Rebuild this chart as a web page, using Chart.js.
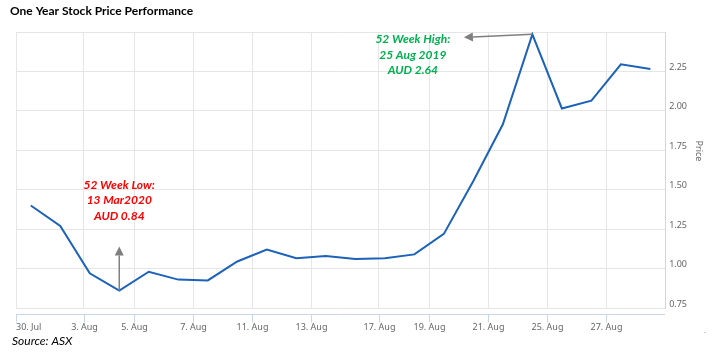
<!DOCTYPE html>
<html>
<head>
<meta charset="utf-8">
<script src="https://cdn.jsdelivr.net/npm/chart.js@4.4.1/dist/chart.umd.min.js"></script>
<style>
    html, body { margin: 0; padding: 0; background: #ffffff; }
</style>
</head>
<body>
<canvas id="priceChart" width="713" height="354"></canvas>
<script>
//======================================================================================================================
// 데이터 ===============================================================================================================
const priceData = [1.40, 1.27, 0.97, 0.86, 0.98, 0.93, 0.925, 1.045, 1.12, 1.065, 1.08,
                   1.06, 1.065, 1.09, 1.22, 1.555, 1.915, 2.485, 2.015, 2.065, 2.295, 2.265];   // 종가
const xTickPos = [-0.5, 1.8, 3.5, 5.5, 7.5, 9.5, 11.8, 13.5, 15.5, 17.5, 19.5];                  // X축 눈금 위치(포인트 순번 기준)
const xTickLabels = ['30. Jul', '3. Aug', '5. Aug', '7. Aug', '11. Aug', '13. Aug',
                     '17. Aug', '19. Aug', '21. Aug', '25. Aug', '27. Aug'];                      // X축 눈금 라벨
const lowNote = ['52 Week Low:', '13 Mar2020', 'AUD 0.84'];        // 최저가 주석
const highNote = ['52 Week High:', '25 Aug 2019', 'AUD 2.64'];     // 최고가 주석

const chartTitle = 'One Year Stock Price Performance';
const sourceText = 'Source: ASX';
const yTitle = 'Price';

// 주석 위치 (데이터 좌표)
const lowAnno = { idx: 3, arrowTo: 1.14, textX: 3, textY: 1.53 };
const highAnno = { idx: 17, arrowToX: 14.68, arrowToY: 2.466, textX: 12.95, textY: 2.452 };

// 화살표 그리기
function drawArrow(ctx, x1, y1, x2, y2, color){
    const ang = Math.atan2(y2 - y1, x2 - x1);
    const headLen = 9, headW = 4.5;
    const bx = x2 - headLen * Math.cos(ang), by = y2 - headLen * Math.sin(ang);
    ctx.strokeStyle = color;
    ctx.fillStyle = color;
    ctx.lineWidth = 1.5;
    ctx.beginPath();
    ctx.moveTo(x1, y1);
    ctx.lineTo(bx, by);
    ctx.stroke();
    ctx.beginPath();
    ctx.moveTo(x2, y2);
    ctx.lineTo(bx + headW * Math.sin(ang), by - headW * Math.cos(ang));
    ctx.lineTo(bx - headW * Math.sin(ang), by + headW * Math.cos(ang));
    ctx.closePath();
    ctx.fill();
}

// 여러 줄 텍스트
function drawNote(ctx, lines, x, y, color){
    ctx.fillStyle = color;
    ctx.font = 'italic bold 12px Lato';
    ctx.textAlign = 'center';
    ctx.textBaseline = 'middle';
    lines.forEach((t, i) => ctx.fillText(t, x, y + i * 15.5));
}

// 제목, 축, 주석 플러그인
const stockDecorPlugin = {
    id: 'stockDecor',
    afterDraw(chart){
        const ctx = chart.ctx;
        const xs = chart.scales.x, ys = chart.scales.y;
        const area = chart.chartArea;
        ctx.save();

        // 제목
        ctx.fillStyle = '#000000';
        ctx.textAlign = 'left';
        ctx.textBaseline = 'alphabetic';
        ctx.font = 'bold 12px Lato';
        ctx.fillText(chartTitle, 10, 15);

        // 출처
        ctx.font = 'italic 12px Lato';
        ctx.fillText(sourceText, 12, 345);

        // X축 선 + 눈금
        const axisY = Math.round(area.bottom) + 6.5;
        ctx.strokeStyle = '#ccd6eb';
        ctx.lineWidth = 1;
        ctx.beginPath();
        ctx.moveTo(area.left, axisY);
        ctx.lineTo(area.right, axisY);
        ctx.stroke();
        ctx.font = '9px "Noto Sans"';
        ctx.fillStyle = '#666666';
        ctx.textBaseline = 'middle';
        xTickPos.forEach((v, i) => {
            const px = Math.round(xs.getPixelForValue(v)) + 0.5;
            ctx.beginPath();
            ctx.moveTo(px, axisY);
            ctx.lineTo(px, axisY + 8);
            ctx.stroke();
            ctx.textAlign = i === 0 ? 'left' : 'center';
            ctx.fillText(xTickLabels[i], i === 0 ? px - 0.5 : px, axisY + 13);
        });

        // Y축 제목
        ctx.save();
        ctx.translate(area.right + 33, (area.top + area.bottom) / 2 - 19);
        ctx.rotate(Math.PI / 2);
        ctx.textAlign = 'center';
        ctx.fillText(yTitle, 0, 0);
        ctx.restore();

        // 최저가 주석
        const lx = xs.getPixelForValue(lowAnno.idx);
        drawArrow(ctx, lx, ys.getPixelForValue(priceData[lowAnno.idx]), lx, ys.getPixelForValue(lowAnno.arrowTo), '#7f7f7f');
        drawNote(ctx, lowNote, xs.getPixelForValue(lowAnno.textX), ys.getPixelForValue(lowAnno.textY), '#ff0000');

        // 최고가 주석
        drawArrow(ctx, xs.getPixelForValue(highAnno.idx), ys.getPixelForValue(priceData[highAnno.idx]),
                  xs.getPixelForValue(highAnno.arrowToX), ys.getPixelForValue(highAnno.arrowToY), '#7f7f7f');
        drawNote(ctx, highNote, xs.getPixelForValue(highAnno.textX), ys.getPixelForValue(highAnno.textY), '#00b050');

        // 오른쪽 아래 점
        ctx.fillStyle = '#999999';
        ctx.font = '9px "Noto Sans"';
        ctx.textAlign = 'center';
        ctx.fillText('.', 705, 330);

        ctx.restore();
    }
};

// 라인차트 생성
function createPriceChart(chartid){
    const ctx = document.getElementById(chartid);

    const lineChart = new Chart(ctx, {
        type: 'line',
        data: {
            datasets: [{
                label: yTitle,
                data: priceData.map((v, i) => ({ x: i, y: v })),
                borderColor: '#1b62b8',
                borderWidth: 2,
                pointRadius: 0,
                fill: false,
                tension: 0
            }]
        },
        options: {
            responsive: false,
            animation: false,
            devicePixelRatio: 1,
            layout: { padding: { left: 16, top: 32, bottom: 46, right: 22 } },
            plugins: {
                legend: { display: false },
                tooltip: { enabled: false }
            },
            scales: {
                x: {
                    type: 'linear',
                    min: -0.5,
                    max: 21.5,
                    afterBuildTicks: (axis) => { axis.ticks = xTickPos.map(v => ({ value: v })); },
                    grid: { color: '#e6e6e6', drawTicks: false },
                    border: { display: false },
                    ticks: { display: false }
                },
                y: {
                    position: 'right',
                    min: 0.75,
                    max: 2.5,
                    ticks: {
                        stepSize: 0.25,
                        callback: (v) => v >= 2.5 ? '' : v.toFixed(2),
                        font: { family: 'Noto Sans', size: 9 },
                        color: '#666666',
                        padding: 4,
                        labelOffset: -4
                    },
                    grid: { color: '#e6e6e6', drawTicks: false },
                    border: { color: '#ccd6eb' }
                }
            }
        },
        plugins: [stockDecorPlugin]
    });

    return lineChart;
}

createPriceChart('priceChart');
</script>
</body>
</html>
